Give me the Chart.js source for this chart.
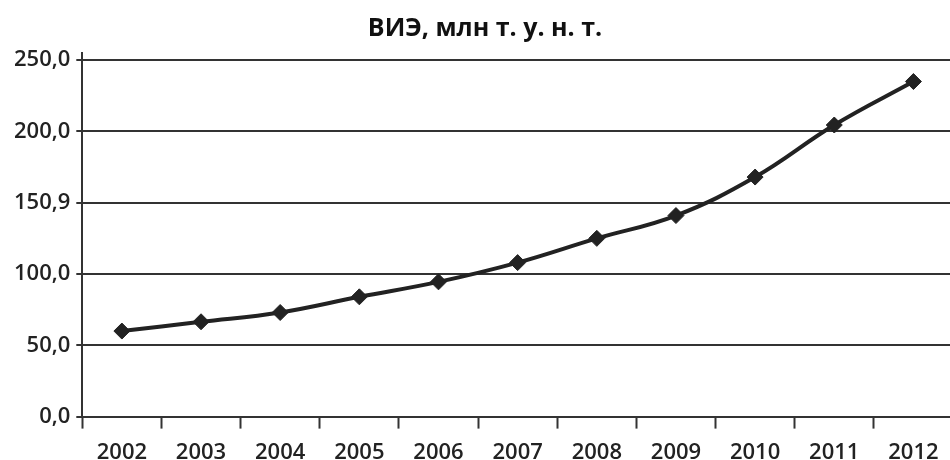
<!DOCTYPE html>
<html>
<head>
<meta charset="utf-8">
<script src="https://cdn.jsdelivr.net/npm/chart.js@4/dist/chart.umd.min.js"></script>
<style>
  html, body { margin: 0; padding: 0; background: #fff; overflow: hidden; }
  #wrap { width: 962px; height: 477px; }
</style>
</head>
<body>
<div id="wrap"><canvas id="chart"></canvas></div>
<script>
// Data
const years = ['2002', '2003', '2004', '2005', '2006', '2007', '2008', '2009', '2010', '2011', '2012'];
const vieValues = [60, 66.5, 73, 84, 94.5, 108, 125, 141, 168, 204.5, 235];
const yTickValues = [0, 50, 100, 150, 200, 250];
const yTickLabels = ['0,0', '50,0', '100,0', '150,9', '200,0', '250,0'];
const chartTitle = 'ВИЭ, млн т. у. н. т.';

const ink = '#222';
const font = "'Open Sans', 'Noto Sans', sans-serif";

new Chart(document.getElementById('chart'), {
  type: 'line',
  data: {
    labels: years,
    datasets: [{
      data: vieValues,
      borderColor: ink,
      borderWidth: 4,
      tension: 0.4,
      pointStyle: 'rectRot',
      pointRadius: 8,
      pointBackgroundColor: ink,
      pointBorderColor: ink,
      pointBorderWidth: 1,
      fill: false
    }]
  },
  options: {
    responsive: true,
    maintainAspectRatio: false,
    animation: false,
    layout: { padding: { left: 8, right: 0, top: 0, bottom: 0 } },
    plugins: {
      legend: { display: false },
      tooltip: { enabled: false },
      title: {
        display: true,
        text: chartTitle,
        color: '#111',
        font: { family: font, size: 25, weight: 'bold' },
        padding: { top: 14, bottom: 9 }
      }
    },
    scales: {
      x: {
        offset: true,
        grid: {
          offset: true,
          drawOnChartArea: false,
          drawTicks: true,
          tickLength: 12,
          tickWidth: 2,
          tickColor: '#333'
        },
        border: { display: true, color: '#333', width: 2 },
        ticks: {
          color: ink,
          font: { family: font, size: 22, weight: '600' },
          padding: 11,
          maxRotation: 0
        }
      },
      y: {
        min: 0,
        max: 255,
        grid: {
          color: '#333',
          lineWidth: 2,
          tickLength: 6,
          tickColor: '#333'
        },
        border: { display: true, color: '#333', width: 2 },
        ticks: {
          stepSize: 50,
          includeBounds: false,
          color: ink,
          font: { family: font, size: 22, weight: '600' },
          padding: 6,
          callback: v => {
            const i = yTickValues.indexOf(v);
            return i >= 0 ? yTickLabels[i] : '';
          }
        }
      }
    }
  }
});
</script>
</body>
</html>
